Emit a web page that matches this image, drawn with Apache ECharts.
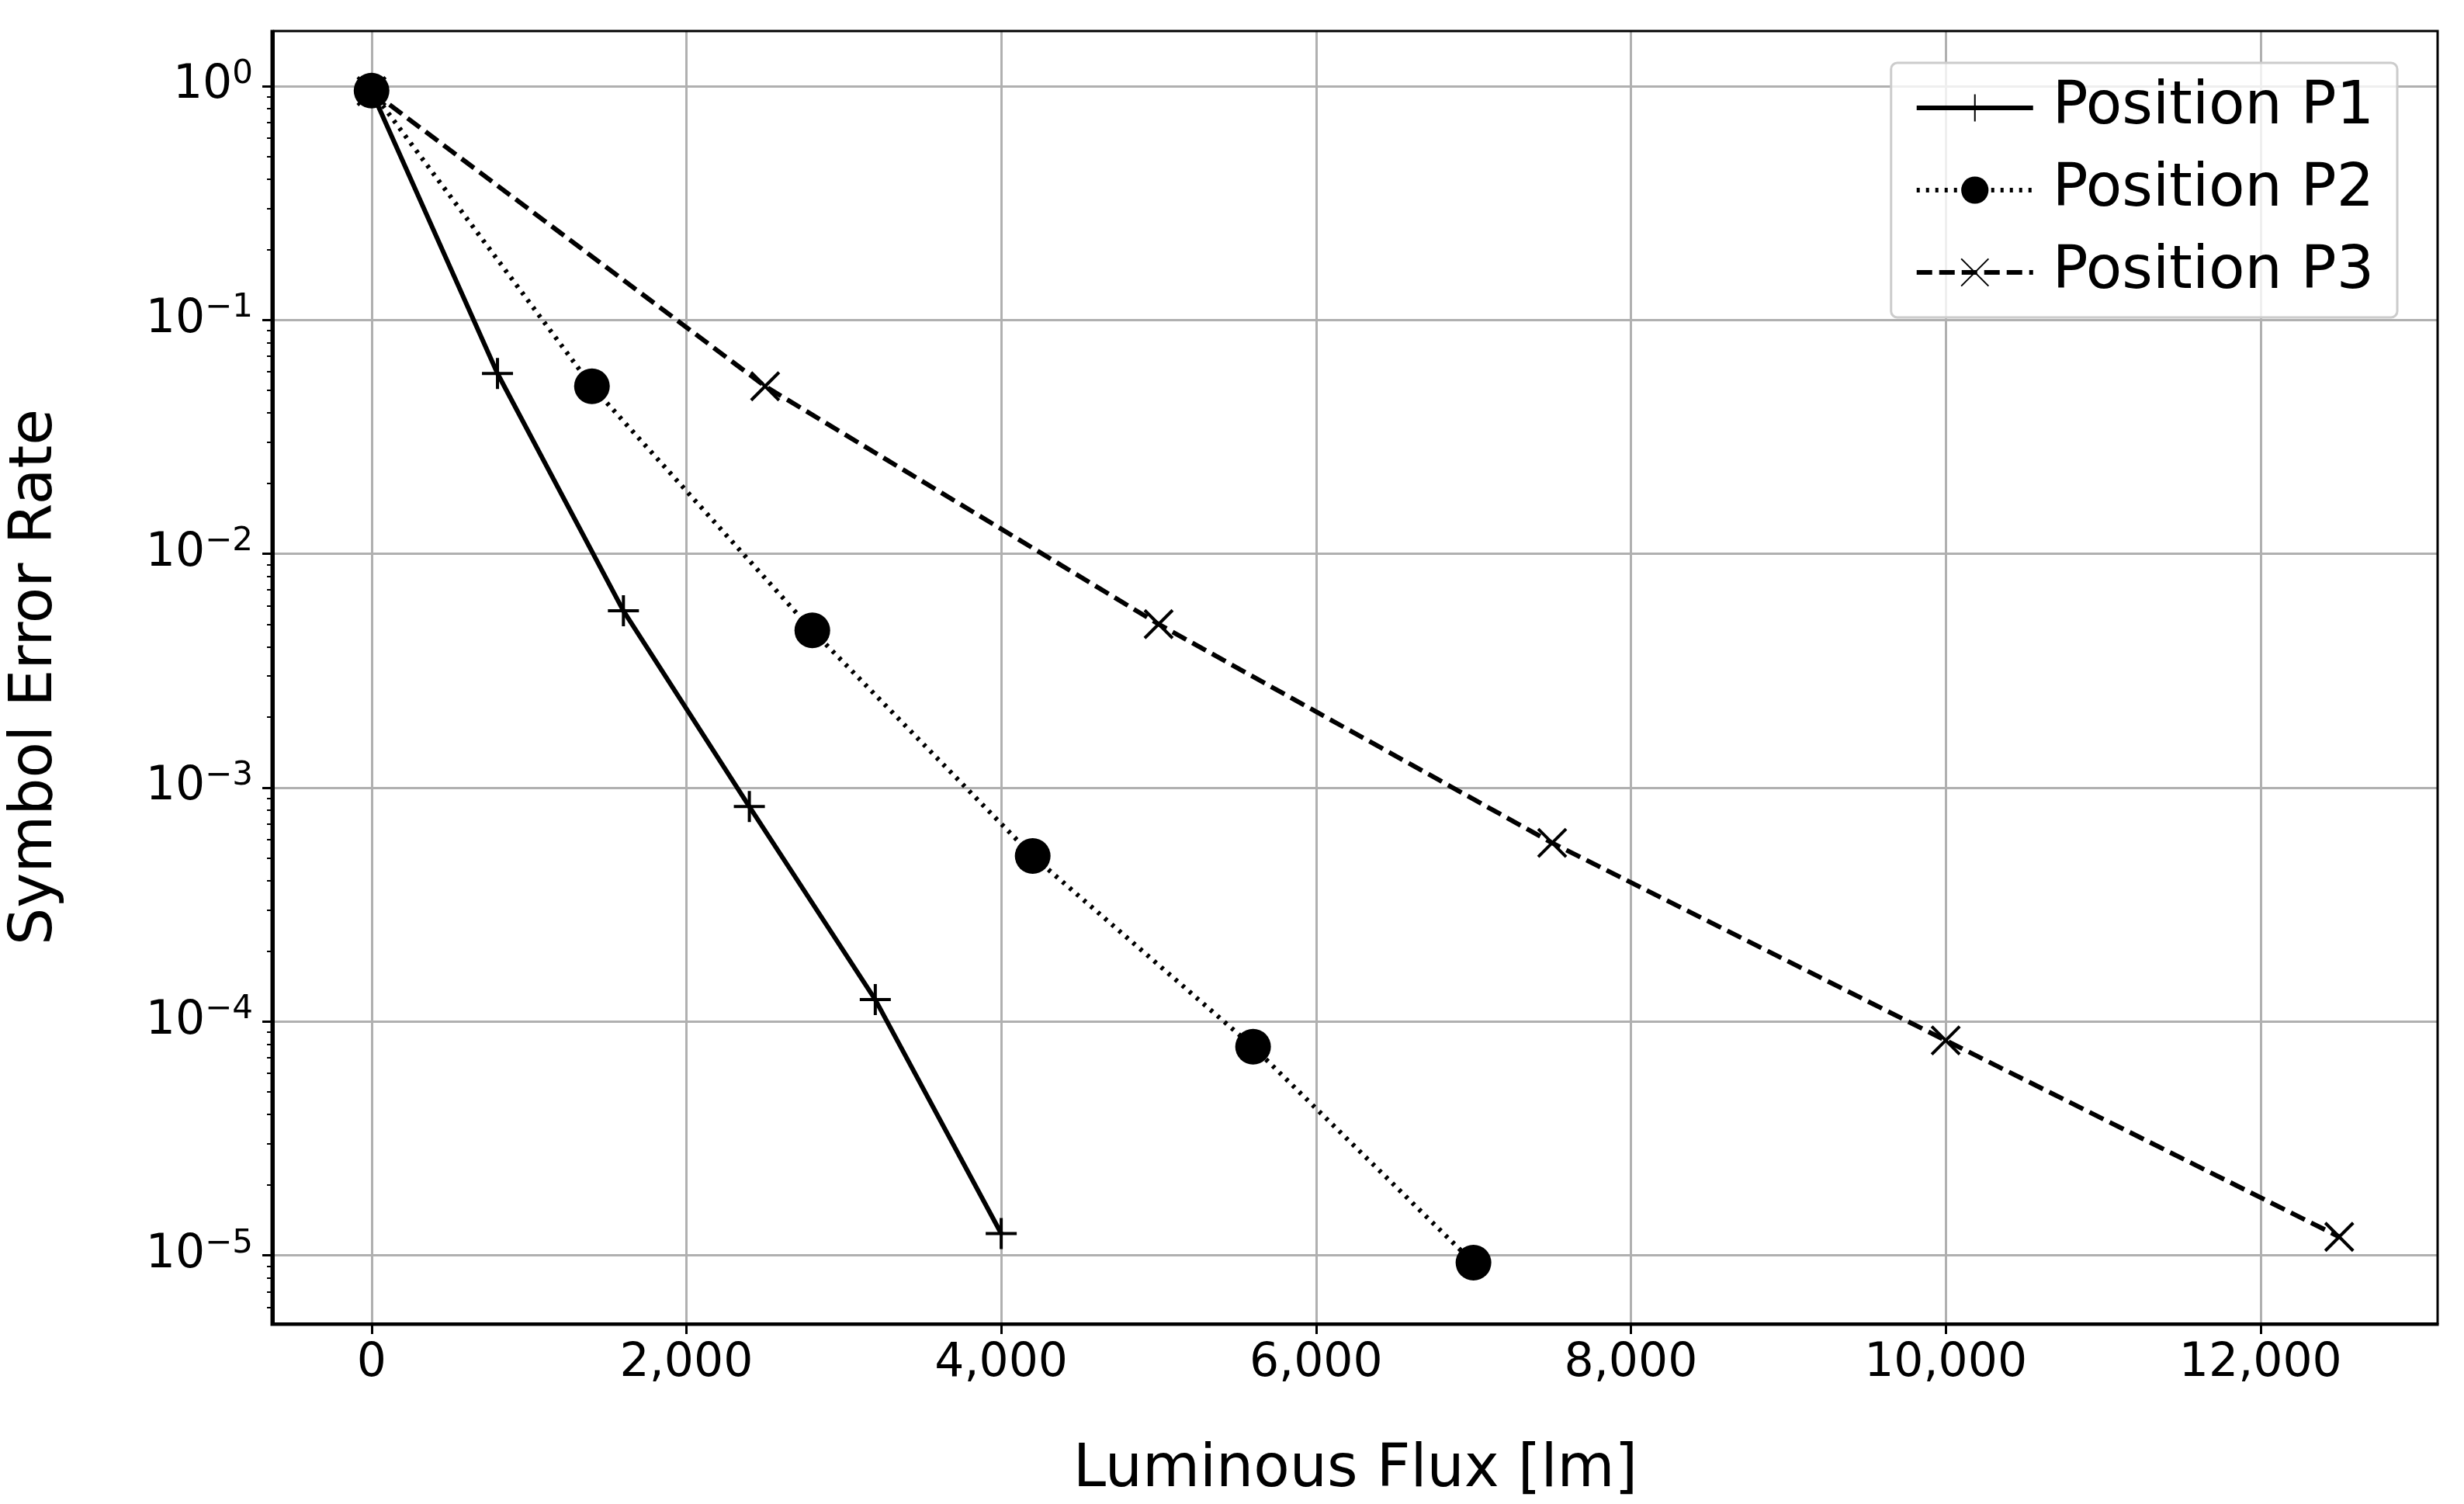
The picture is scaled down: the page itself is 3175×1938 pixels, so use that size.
<!DOCTYPE html>
<html><head><meta charset="utf-8">
<script src="https://cdn.jsdelivr.net/npm/echarts@6/dist/echarts.min.js"></script>
<style>html,body{margin:0;padding:0;background:#fff}#c{width:3175px;height:1938px}</style>
</head><body><div id="c"></div>
<script>
const x1 = [0, 800, 1600, 2400, 3200, 4000];
const p1 = [0.95, 0.059, 0.0057, 0.00083, 0.000124, 0.0000124];
const x2 = [0, 1400, 2800, 4200, 5600, 7000];
const p2 = [0.955, 0.052, 0.0047, 0.00051, 0.000078, 0.0000093];
const x3 = [0, 2500, 5000, 7500, 10000, 12500];
const p3 = [0.95, 0.052, 0.005, 0.00058, 0.000083, 0.000012];
const xTicks = [0, 2000, 4000, 6000, 8000, 10000, 12000];
const yTicks = [-5, -4, -3, -2, -1, 0];
const names = ['Position P1', 'Position P2', 'Position P3'];

const yMin = -5.29, yMax = 0.235;
const minor = [];
for (let n = -6; n <= 0; n++) for (let k = 2; k <= 9; k++) { const v = n + Math.log10(k); if (v > yMin && v < yMax) minor.push(v); }
const pair = (xs, ys) => xs.map((x, i) => [x, Math.log10(ys[i])]);
const FONT = 'DejaVu Sans';
const plus = 'path://M0,-10L0,10M-10,0L10,0';
const cross = 'path://M-10,-10L10,10M-10,10L10,-10';
const sup = v => { const s = v === 0 ? '0' : '\u2212' + Math.abs(v); return '{b|10}{s|' + s + '}'; };
const common = { type: 'line', color: '#000', z: 5 };
const chart = echarts.init(document.getElementById('c'));
chart.setOption({
  backgroundColor: '#fff',
  animation: false,
  textStyle: { fontFamily: FONT },
  grid: { left: 350, right: 34, top: 40, bottom: 231 },
  legend: {
    right: 86, top: 81, orient: 'vertical', itemWidth: 150, itemHeight: 44, itemGap: 30,
    padding: [20, 30, 20, 30], borderColor: '#ccc', borderWidth: 3, borderRadius: 8,
    backgroundColor: 'rgba(255,255,255,0.8)',
    lineStyle: { width: 6 },
    textStyle: { fontSize: 76, color: '#000', fontFamily: FONT, padding: [0, 0, 0, 20] },
    data: names
  },
  xAxis: {
    type: 'value', min: -625, max: 13125,
    name: 'Luminous Flux [lm]', nameLocation: 'middle', nameGap: 152,
    nameTextStyle: { fontSize: 76, color: '#000' },
    axisLine: { onZero: false, lineStyle: { color: '#000', width: 3 } },
    axisTick: { show: true, length: 14, lineStyle: { color: '#000', width: 3 }, customValues: xTicks },
    axisLabel: { fontSize: 60, color: '#000', margin: 22, customValues: xTicks,
      formatter: v => v.toLocaleString('en-US') },
    splitLine: { show: true, lineStyle: { color: '#b0b0b0', width: 3 } }
  },
  yAxis: [{
    type: 'value', min: yMin, max: yMax,
    name: 'Symbol Error Rate', nameLocation: 'middle', nameGap: 268,
    nameTextStyle: { fontSize: 76, color: '#000' },
    axisLine: { onZero: false, lineStyle: { color: '#000', width: 3 } },
    axisTick: { show: true, length: 14, lineStyle: { color: '#000', width: 3 }, customValues: yTicks },
    axisLabel: { color: '#000', margin: 26, customValues: yTicks, formatter: sup,
      rich: { b: { fontSize: 60, fontFamily: FONT, color: '#000' },
              s: { fontSize: 42, fontFamily: FONT, color: '#000', padding: [0, 0, 30, 0] } } },
    splitLine: { show: true, lineStyle: { color: '#b0b0b0', width: 3 } }
  }, {
    type: 'value', min: yMin, max: yMax, position: 'left', offset: 0,
    axisLine: { show: false, onZero: false },
    axisTick: { show: true, length: 8, lineStyle: { color: '#000', width: 2 }, customValues: minor },
    axisLabel: { show: false }, splitLine: { show: false }
  }],
  series: [
    Object.assign({}, common, { name: names[0], data: pair(x1, p1), symbol: plus, symbolSize: 40,
      lineStyle: { color: '#000', width: 6, type: 'solid' },
      itemStyle: { color: '#000', borderColor: '#000', borderWidth: 4 } }),
    Object.assign({}, common, { name: names[1], data: pair(x2, p2), symbol: 'circle', symbolSize: 46,
      lineStyle: { color: '#000', width: 6, type: [4, 8] },
      itemStyle: { color: '#000' } }),
    Object.assign({}, common, { name: names[2], data: pair(x3, p3), symbol: cross, symbolSize: 36,
      lineStyle: { color: '#000', width: 6, type: [20, 9] },
      itemStyle: { color: '#000', borderColor: '#000', borderWidth: 4 } })
  ],
  graphic: [{ type: 'rect', shape: { x: 350, y: 40, width: 2791, height: 1667 },
    style: { fill: 'none', stroke: '#000', lineWidth: 3 }, z: 10, silent: true }]
});
</script></body></html>
